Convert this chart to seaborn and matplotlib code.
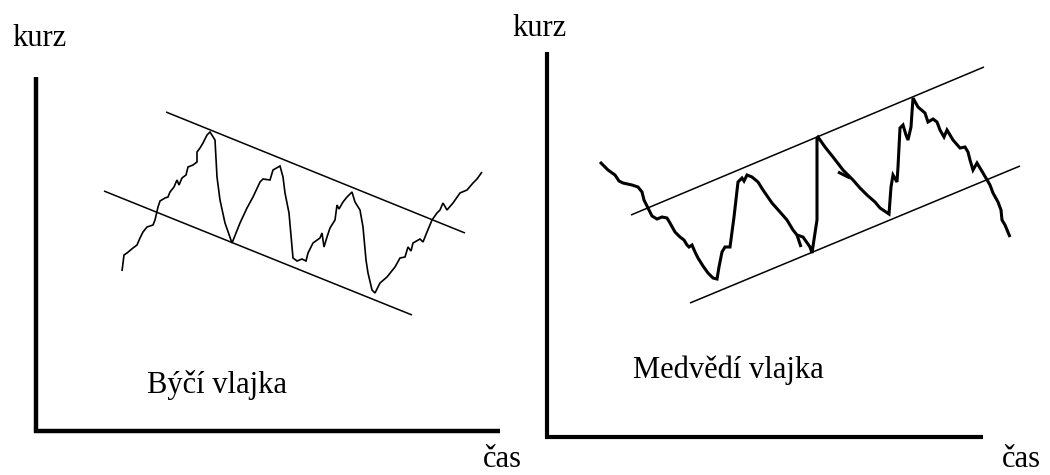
import matplotlib
matplotlib.use("Agg")
import matplotlib.pyplot as plt
import seaborn as sns
import pandas as pd

# ---------------- data (diagram coordinates: x = time, y = screen-down price) ----------------
# Left panel: "Býčí vlajka" (bull flag)
bull_axis_x = [35.5, 35.5, 500]
bull_axis_y = [77, 431, 431]
bull_upper_x = [166, 465]
bull_upper_y = [112, 233]
bull_lower_x = [104, 412]
bull_lower_y = [191, 315]
bull_price_x = [122, 124, 127, 133, 137, 140, 143, 147, 153, 155, 158, 160, 165, 168, 170,
                174, 177, 179, 182, 186, 188, 193, 197, 197, 200, 203, 207, 210, 215, 217,
                220, 225, 232, 240, 247, 253, 260, 263, 270, 273, 280, 283, 285, 289, 293,
                297, 302, 306, 308, 313, 320, 322, 324, 327, 330, 335, 337, 339, 343, 347,
                352, 355, 360, 363, 366, 368, 372, 375, 380, 387, 395, 400, 405, 408, 411,
                413, 420, 423, 427, 432, 437, 440, 443, 447, 453, 460, 467, 473, 477, 482]
bull_price_y = [271, 255, 253, 248, 245, 238, 232, 227, 225, 220, 207, 201, 198, 197, 192,
                187, 180, 185, 178, 175, 167, 165, 162, 152, 148, 143, 135, 132, 140, 177,
                200, 223, 243, 223, 208, 197, 182, 179, 180, 170, 166, 177, 193, 213, 258,
                261, 259, 261, 253, 243, 238, 233, 247, 237, 228, 220, 205, 209, 202, 197,
                192, 202, 210, 227, 260, 273, 290, 293, 283, 277, 267, 258, 257, 247, 251,
                243, 239, 242, 232, 220, 213, 210, 203, 210, 203, 193, 190, 183, 179, 172]

# Right panel: "Medvědí vlajka" (bear flag)
bear_axis_x = [547, 547, 983]
bear_axis_y = [52, 437, 437]
bear_upper_x = [631, 984]
bear_upper_y = [215, 67]
bear_lower_x = [690, 1020]
bear_lower_y = [303, 166]
bear_price_x = [600, 608, 615, 619, 623, 632, 638, 642, 644, 648, 652, 657, 662, 667, 670,
                675, 680, 684, 687, 689, 692, 695, 698, 703, 708, 713, 717, 719, 722, 725,
                730, 734, 738, 742, 744, 747, 752, 758, 763, 772, 780, 787, 793, 797, 803,
                810, 812, 815, 817, 817, 817, 818, 825, 833, 843, 853, 860, 867, 875, 880,
                889, 891, 893, 897, 898, 900, 903, 906, 908, 911, 913, 918, 925, 928, 933,
                937, 940, 944, 947, 953, 960, 965, 968, 970, 973, 977, 983, 990, 993, 998,
                1001, 1002, 1005, 1010]
bear_price_y = [162, 170, 175, 181, 183, 185, 187, 192, 200, 208, 216, 219, 217, 218, 223,
                232, 237, 240, 245, 247, 245, 252, 258, 266, 273, 278, 279, 267, 252, 247,
                247, 217, 182, 178, 181, 175, 177, 182, 190, 203, 212, 220, 230, 235, 237,
                247, 253, 233, 220, 180, 138, 137, 147, 157, 170, 180, 188, 195, 202, 208,
                214, 187, 175, 182, 167, 128, 125, 135, 140, 127, 98, 107, 113, 122, 119,
                122, 130, 137, 130, 140, 148, 147, 152, 160, 170, 163, 173, 185, 193, 202,
                210, 220, 225, 237]
bear_stub1_x = [797, 801]
bear_stub1_y = [235, 247]
bear_stub2_x = [838, 850]
bear_stub2_y = [172, 178]

texts = [
    ("kurz", 12, 46),
    ("čas", 483, 467),
    ("Býčí vlajka", 147, 393),
    ("kurz", 512, 36),
    ("čas", 1002, 467),
    ("Medvědí vlajka", 633, 378),
]

# ---------------- drawing ----------------
sns.set_theme(style="white")
plt.rcParams['font.family'] = ['Liberation Serif', 'DejaVu Serif']

fig = plt.figure(figsize=(10.5, 4.75), dpi=100)
ax = fig.add_axes([0, 0, 1, 1])


def draw(xs, ys, lw):
    df = pd.DataFrame({"t": xs, "p": ys})
    sns.lineplot(data=df, x="t", y="p", sort=False, estimator=None, color="black",
                 linewidth=lw, ax=ax, solid_joinstyle="miter", solid_capstyle="butt")


draw(bull_axis_x, bull_axis_y, 3.2)
draw(bear_axis_x, bear_axis_y, 3.0)
draw(bull_upper_x, bull_upper_y, 1.1)
draw(bull_lower_x, bull_lower_y, 1.1)
draw(bear_upper_x, bear_upper_y, 1.1)
draw(bear_lower_x, bear_lower_y, 1.1)
draw(bull_price_x, bull_price_y, 1.2)
draw(bear_price_x, bear_price_y, 2.2)
draw(bear_stub1_x, bear_stub1_y, 2.2)
draw(bear_stub2_x, bear_stub2_y, 2.2)

for s, x, y in texts:
    ax.text(x, y, s, fontsize=22, ha="left", va="baseline", color="black")

ax.set_xlim(0, 1050)
ax.set_ylim(475, 0)
ax.axis("off")

fig.savefig("out.png", dpi=100, facecolor="white")
